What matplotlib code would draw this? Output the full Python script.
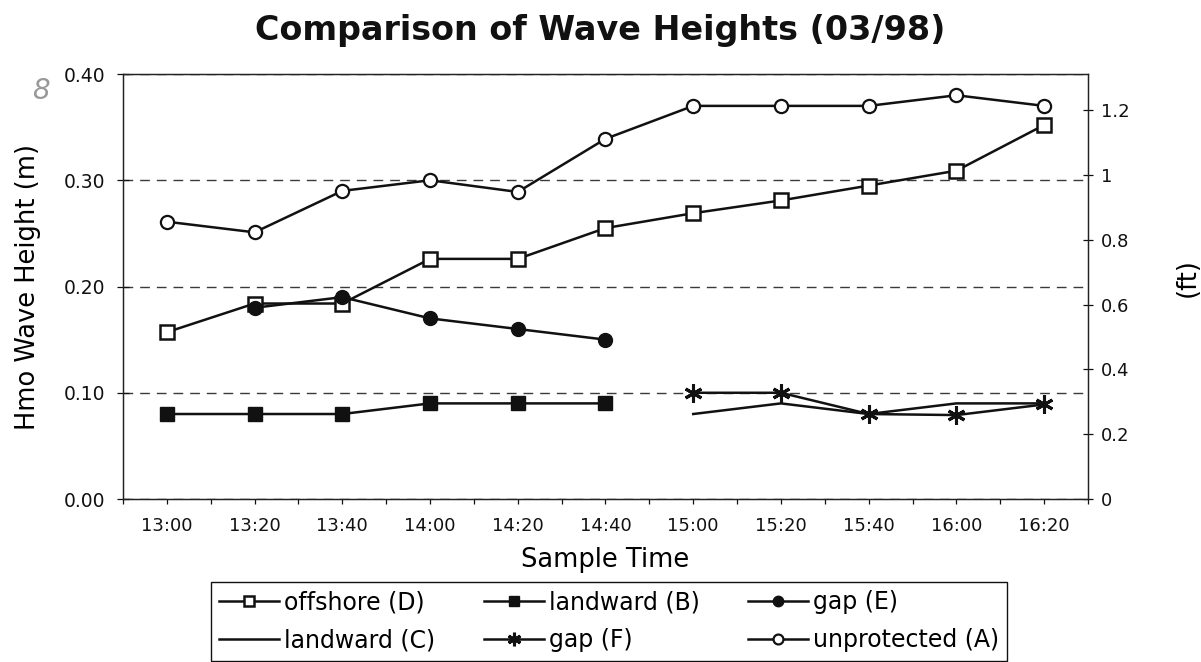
import numpy as np
import matplotlib
matplotlib.use('Agg')
import matplotlib.pyplot as plt

# Du lieu doc tu hinh goc (m)
times = ['13:00', '13:20', '13:40', '14:00', '14:20', '14:40',
         '15:00', '15:20', '15:40', '16:00', '16:20']
nan = np.nan
offshore_D = [0.157, 0.184, 0.184, 0.226, 0.226, 0.255, 0.269, 0.281, 0.295, 0.309, 0.352]
landward_B = [0.080, 0.080, 0.080, 0.090, 0.090, 0.090, nan, nan, nan, nan, nan]
gap_E = [nan, 0.180, 0.190, 0.170, 0.160, 0.150, nan, nan, nan, nan, nan]
landward_C = [nan, nan, nan, nan, nan, nan, 0.080, 0.090, 0.080, 0.090, 0.090]
gap_F = [nan, nan, nan, nan, nan, nan, 0.100, 0.100, 0.080, 0.079, 0.089]
unprotected_A = [0.261, 0.251, 0.290, 0.300, 0.289, 0.339, 0.370, 0.370, 0.370, 0.380, 0.370]

m_ticks = [0.0, 0.1, 0.2, 0.3, 0.4]
ft_ticks = [0, 0.2, 0.4, 0.6, 0.8, 1.0, 1.2]
m_per_ft = 0.3048

plt.rcParams['font.family'] = ['DejaVu Sans']

fig = plt.figure(figsize=(12.01, 6.62), dpi=100)
ax = fig.add_axes([0.1024, 0.2462, 0.8035, 0.642])

x = np.arange(len(times))
lw = 1.8
k = '#111111'

l_D, = ax.plot(x, offshore_D, color=k, lw=lw, marker='s', ms=9.5, mfc='white', mec=k, mew=1.8)
l_B, = ax.plot(x, landward_B, color=k, lw=lw, marker='s', ms=10.5, mfc=k, mec=k)
l_E, = ax.plot(x, gap_E, color=k, lw=lw, marker='o', ms=10, mfc=k, mec=k)
l_C, = ax.plot(x, landward_C, color=k, lw=lw)
l_F, = ax.plot(x, gap_F, color=k, lw=lw, marker=(6, 2, 0), ms=13, mec=k, mew=2.2)
l_A, = ax.plot(x, unprotected_A, color=k, lw=lw, marker='o', ms=9.5, mfc='white', mec=k, mew=1.6)

ax.set_xlim(-0.5, len(times) - 0.5)
ax.set_ylim(m_ticks[0], m_ticks[-1])

# truc x: vach o giua va o bien moi nhom
xt = np.arange(-0.5, len(times), 0.5)
xl = [times[int(v)] if float(v).is_integer() else '' for v in xt]
ax.set_xticks(xt)
ax.set_xticklabels(xl, fontsize=13)
ax.tick_params(axis='x', direction='out', length=3.6, width=0.9, pad=9, colors=k)

ax.set_yticks(m_ticks)
ax.set_yticklabels(['%.2f' % v for v in m_ticks], fontsize=13.5)
ax.tick_params(axis='y', direction='inout', length=8, width=0.9, pad=9, colors=k)

ax.yaxis.grid(True, color='#3a3a3a', lw=1.0, linestyle=(0, (7, 5)))
ax.set_axisbelow(True)
for s in ax.spines.values():
    s.set_linewidth(0.9)
    s.set_color('#222222')

ax.set_xlabel('Sample Time', fontsize=18.5, va='baseline')
ax.xaxis.set_label_coords(0.5, -0.16)
ax.set_ylabel('Hmo Wave Height (m)', fontsize=18.5, va='center')
ax.yaxis.set_label_coords(-0.098, 0.50)

# truc phai theo feet
ax2 = ax.twinx()
ax2.set_ylim(m_ticks[0] / m_per_ft, m_ticks[-1] / m_per_ft)
ax2.set_yticks(ft_ticks)
ax2.set_yticklabels(['%g' % v for v in ft_ticks], fontsize=13)
ax2.tick_params(axis='y', direction='inout', length=7, width=0.9, pad=6, colors=k)
for s in ax2.spines.values():
    s.set_linewidth(0.9)
    s.set_color('#222222')
ax2.set_ylabel('(ft)', fontsize=18.5, rotation=90, va='center')
ax2.yaxis.set_label_coords(1.103, 0.52)

fig.text(0.5, 0.9396, 'Comparison of Wave Heights (03/98)', ha='center', va='baseline',
         fontsize=24, fontweight='bold', color=k)

# so viet tay tren ban scan
fig.text(0.034, 0.862, '8', fontsize=20, color='#999999', style='italic', ha='center', va='center')

handles = [l_D, l_C, l_B, l_F, l_E, l_A]
labels = ['offshore (D)', 'landward (C)', 'landward (B)', 'gap (F)', 'gap (E)', 'unprotected (A)']
leg = fig.legend(handles, labels, loc='upper left', bbox_to_anchor=(211 / 1201, 1 - 582 / 662),
                 ncol=3, fontsize=17, frameon=True, fancybox=False, shadow=False,
                 handlelength=2.55, handletextpad=0.2, columnspacing=2.05,
                 labelspacing=0.6, borderpad=0.35, borderaxespad=0.0, markerscale=0.75)
leg.get_frame().set_edgecolor(k)
leg.get_frame().set_linewidth(1.0)
leg.get_frame().set_alpha(1)

fig.savefig('out.png', dpi=100)
